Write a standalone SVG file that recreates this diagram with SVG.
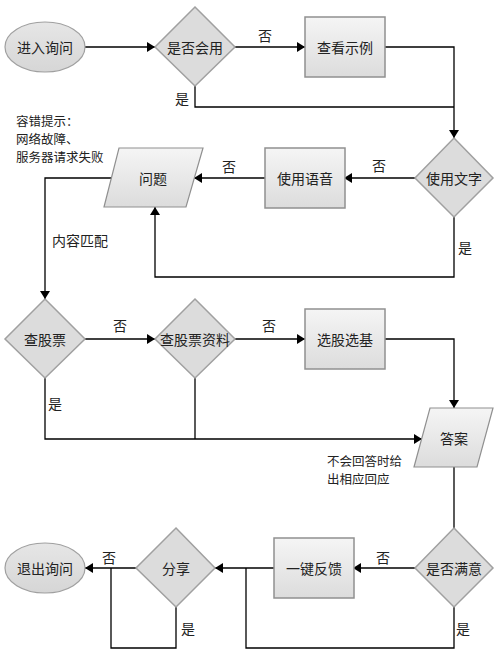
<svg xmlns="http://www.w3.org/2000/svg" width="500" height="660" viewBox="0 0 500 660">
<style>
text{font-family:"Noto Sans CJK SC","Liberation Sans",sans-serif;font-size:14px;fill:#222;}
.c{text-anchor:middle;dominant-baseline:central;}
.l{dominant-baseline:central;}
.n{font-size:12.5px;dominant-baseline:central;}
.dia{fill:#dcdcdc;stroke:#a0a0a0;stroke-width:1.5;}
.box{fill:url(#gb);stroke:#909090;stroke-width:1.5;}
.par{fill:url(#gb);stroke:#909090;stroke-width:1.2;}
.ell{fill:url(#ge);stroke:#a0a0a0;stroke-width:1.2;}
.ln{fill:none;stroke:#000;stroke-width:1.3;}
</style>
<defs>
<linearGradient id="gb" x1="0" y1="0" x2="0" y2="1"><stop offset="0" stop-color="#f5f5f5"/><stop offset="1" stop-color="#dcdcdc"/></linearGradient>
<linearGradient id="ge" x1="0" y1="0" x2="0" y2="1"><stop offset="0" stop-color="#e6e6e6"/><stop offset="1" stop-color="#d6d6d6"/></linearGradient>
<marker id="ar" viewBox="0 0 8 10" refX="8" refY="5" markerWidth="8" markerHeight="10" markerUnits="userSpaceOnUse" orient="auto"><path d="M0,0 L8,5 L0,10 Z" fill="#000"/></marker>
</defs>
<rect width="500" height="660" fill="#fff"/>
<g id="connectors">
<path class="ln" d="M85,47 H155" marker-end="url(#ar)"/>
<path class="ln" d="M235,47 H305" marker-end="url(#ar)"/>
<path class="ln" d="M385,47 H454 V138" marker-end="url(#ar)"/>
<path class="ln" d="M195,86 V107 H454"/>
<path class="ln" d="M415,178 H344" marker-end="url(#ar)"/>
<path class="ln" d="M265,178 H194" marker-end="url(#ar)"/>
<path class="ln" d="M454,217 V277 H155 V207" marker-end="url(#ar)"/>
<path class="ln" d="M112,178 H45 V299" marker-end="url(#ar)"/>
<path class="ln" d="M85,339 H155" marker-end="url(#ar)"/>
<path class="ln" d="M235,339 H305" marker-end="url(#ar)"/>
<path class="ln" d="M385,339 H454 V408" marker-end="url(#ar)"/>
<path class="ln" d="M45,378 V439 H422" marker-end="url(#ar)"/>
<path class="ln" d="M195,378 V439"/>
<path class="ln" d="M454,467 V528"/>
<path class="ln" d="M415,568 H353" marker-end="url(#ar)"/>
<path class="ln" d="M274,568 H215" marker-end="url(#ar)"/>
<path class="ln" d="M454,607 V648 H246 V568"/>
<path class="ln" d="M136,568 H85" marker-end="url(#ar)"/>
<path class="ln" d="M176,607 V648 H111 V568"/>
<text class="c" x="265" y="35">否</text>
<text class="c" x="182" y="98">是</text>
<text class="c" x="379" y="165">否</text>
<text class="c" x="229" y="166">否</text>
<text class="c" x="465" y="247">是</text>
<text class="l" x="52" y="240">内容匹配</text>
<text class="c" x="120" y="325">否</text>
<text class="c" x="269" y="325">否</text>
<text class="c" x="55" y="403">是</text>
<text class="c" x="383" y="557">否</text>
<text class="c" x="463" y="628">是</text>
<text class="c" x="109" y="557">否</text>
<text class="c" x="188" y="628">是</text>
</g>
<g id="start"><ellipse class="ell" cx="45" cy="47" rx="40" ry="25"/><text class="c" x="45" y="47">进入询问</text></g>
<g id="canuse"><polygon class="dia" points="195,7 235,47 195,86 155,47"/><text class="c" x="195" y="47">是否会用</text></g>
<g id="example"><rect class="box" x="305" y="17" width="80" height="60"/><text class="c" x="345" y="47">查看示例</text></g>
<g id="text"><polygon class="dia" points="454,138 493,178 454,217 415,178"/><text class="c" x="454" y="178">使用文字</text></g>
<g id="voice"><rect class="box" x="265" y="148" width="80" height="60"/><text class="c" x="305" y="178">使用语音</text></g>
<g id="question"><polygon class="par" points="119,148 203,148 186,207 104,207"/><text class="c" x="153" y="178">问题</text></g>
<g id="note1"><text class="n" x="16" y="120.5">容错提示：</text><text class="n" x="16" y="138.7">网络故障、</text><text class="n" x="16" y="156.9">服务器请求失败</text></g>
<g id="stock"><polygon class="dia" points="45,299 85,339 45,378 5,339"/><text class="c" x="45" y="339">查股票</text></g>
<g id="stockinfo"><polygon class="dia" points="195,299 235,339 195,378 155,339"/><text class="c" x="195" y="339">查股票资料</text></g>
<g id="pick"><rect class="box" x="305" y="309" width="80" height="60"/><text class="c" x="345" y="339">选股选基</text></g>
<g id="answer"><polygon class="par" points="430,408 493,408 477,467 414,467"/><text class="c" x="454" y="438">答案</text></g>
<g id="note2"><text class="n" x="327" y="460.5">不会回答时给</text><text class="n" x="327" y="478.7">出相应回应</text></g>
<g id="satisfied"><polygon class="dia" points="454,528 493,568 454,607 415,568"/><text class="c" x="454" y="568">是否满意</text></g>
<g id="feedback"><rect class="box" x="274" y="538" width="80" height="60"/><text class="c" x="314" y="568">一键反馈</text></g>
<g id="share"><polygon class="dia" points="176,528 215,568 176,607 136,568"/><text class="c" x="176" y="568">分享</text></g>
<g id="end"><ellipse class="ell" cx="45" cy="568" rx="40" ry="25"/><text class="c" x="45" y="568">退出询问</text></g>
</svg>
